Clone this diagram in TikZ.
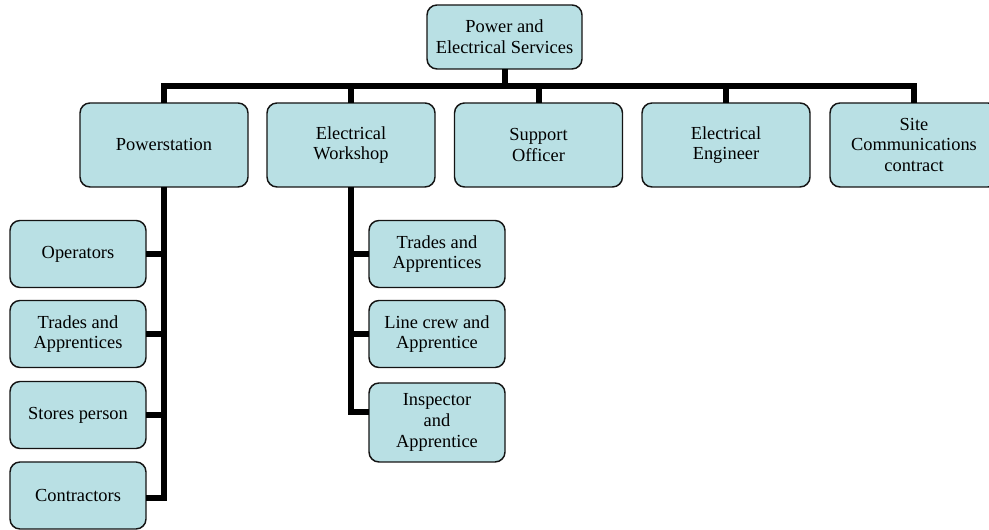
\documentclass[tikz,border=0pt]{standalone}
\usepackage{fontspec}
\setmainfont{Liberation Serif}
\definecolor{boxfill}{RGB}{185,224,228}
\definecolor{boxline}{RGB}{20,20,20}
\tikzset{
  x=0.75pt, y=-0.75pt,
  orgbox/.style={draw=boxline, fill=boxfill, line width=1.1pt, rounded corners=7.5pt,
    align=center, inner sep=0pt, outer sep=0pt,
    font=\fontsize{13.8}{15.5}\selectfont},
  conn/.style={line width=4.5pt, black, line join=miter},
}
\begin{document}
\begin{tikzpicture}
\useasboundingbox (0,0) rectangle (989,530);
\node[orgbox, minimum width=155*0.75pt, minimum height=64*0.75pt] (top) at (504.5,37) {Power and\\Electrical Services};
\foreach \n/\x/\t in {ps/164/Powerstation, ew/351/Electrical\\Workshop, so/538.5/Support\\Officer, ee/726/Electrical\\Engineer, sc/914/Site\\Communications\\contract}{
  \node[orgbox, minimum width=168*0.75pt, minimum height=84*0.75pt] (\n) at (\x,145) {\t};
}
\foreach \n/\y/\t in {op/254/Operators, ta/334/Trades and\\Apprentices, sp/415/Stores person, co/495.5/Contractors}{
  \node[orgbox, minimum width=136*0.75pt, minimum height=67*0.75pt] (\n) at (78,\y) {\t};
}
\foreach \n/\y/\t in {tb/254/Trades and\\Apprentices, lc/334/Line crew and\\Apprentice}{
  \node[orgbox, minimum width=136*0.75pt, minimum height=67*0.75pt] (\n) at (437,\y) {\t};
}
\node[orgbox, minimum width=136*0.75pt, minimum height=79*0.75pt] (ia) at (437,422.5) {Inspector\\and\\Apprentice};
\coordinate (bar) at (0,86);
\draw[conn] (top.south) -- (top.south |- bar);
\draw[conn] (ps.north) -- (ps.north |- bar) -- (sc.north |- bar) -- (sc.north);
\foreach \n in {ew,so,ee}{ \draw[conn] (\n.north) -- (\n.north |- bar); }
\draw[conn] (ps.south) |- ([yshift=-2pt]co.east);
\foreach \n in {op,ta,sp}{ \draw[conn] (\n.east) -- (\n.east -| ps.south); }
\draw[conn] (ew.south) |- ([yshift=7.5pt]ia.west);
\foreach \n in {tb,lc}{ \draw[conn] (\n.west) -- (\n.west -| ew.south); }
\end{tikzpicture}
\end{document}
